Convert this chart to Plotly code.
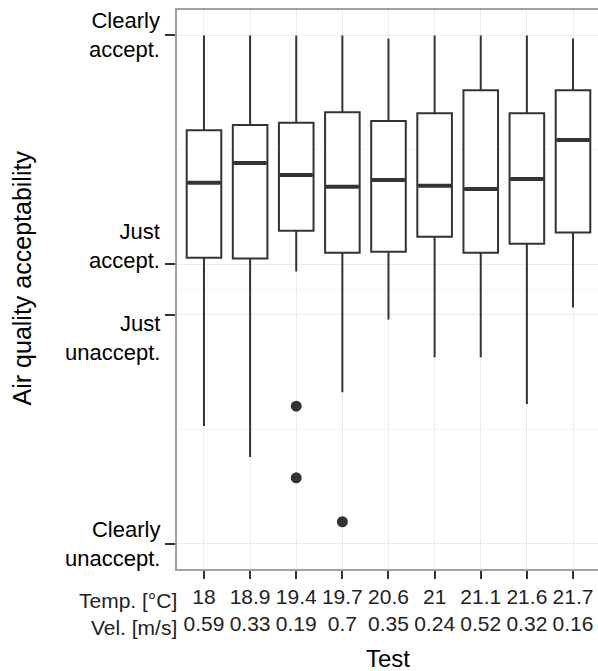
import plotly.graph_objects as go

temps = ["18", "18.9", "19.4", "19.7", "20.6", "21", "21.1", "21.6", "21.7"]
vels = ["0.59", "0.33", "0.19", "0.7", "0.35", "0.24", "0.52", "0.32", "0.16"]
upper = [1.0, 1.0, 1.0, 1.0, 0.988, 1.0, 1.0, 1.0, 0.988]
q3 = [0.627, 0.647, 0.656, 0.698, 0.663, 0.694, 0.784, 0.694, 0.784]
median = [0.42, 0.498, 0.451, 0.404, 0.431, 0.408, 0.396, 0.435, 0.588]
q1 = [0.125, 0.122, 0.231, 0.145, 0.149, 0.208, 0.145, 0.18, 0.224]
lower = [-0.537, -0.659, 0.071, -0.404, -0.118, -0.267, -0.267, -0.451, -0.071]
outlier_test = [2, 2, 3]
outlier_val = [-0.459, -0.741, -0.914]

ytick_vals = [1, 0.1, -0.1, -1]
ytick_text = ["Clearly<br>accept.", "Just<br>accept.", "Just<br>unaccept.", "Clearly<br>unaccept."]
ytick_anchor = ["middle", "bottom", "top", "middle"]
ytick_shift = [0, -11, 6, 0]
yminor_vals = [0.55, 0.0, -0.55]

pos = list(range(len(temps)))
box_w = 0.75
dark = "#333333"

fig = go.Figure()
fig.add_trace(go.Box(
    x=pos, q1=q1, median=median, q3=q3, lowerfence=lower, upperfence=upper,
    width=box_w, whiskerwidth=0, fillcolor="white",
    line=dict(color=dark, width=2), boxpoints=False, showlegend=False,
    hoverinfo="skip",
))
mx, my = [], []
for p, m in zip(pos, median):
    mx += [p - box_w / 2 + 0.02, p + box_w / 2 - 0.02, None]
    my += [m, m, None]
fig.add_trace(go.Scatter(x=mx, y=my, mode="lines", line=dict(color=dark, width=4),
                         showlegend=False, hoverinfo="skip"))
fig.add_trace(go.Scatter(x=outlier_test, y=outlier_val, mode="markers",
                         marker=dict(color=dark, size=11), showlegend=False))

tick_font = dict(family="Liberation Sans, Arial, sans-serif", size=21, color="#222222")
ylab_font = dict(family="Liberation Sans, Arial, sans-serif", size=22, color="black")

annotations = [
    dict(text="Temp. [°C]<br>Vel. [m/s]", xref="paper", yref="paper",
         x=0.004, y=-0.033, xanchor="right", yanchor="top", align="right",
         showarrow=False, font=tick_font),
    dict(text="Test", xref="paper", yref="paper", x=0.5, y=-0.161,
         xanchor="center", yanchor="middle", showarrow=False,
         font=dict(size=24, color="black")),
    dict(text="Air quality acceptability", xref="paper", yref="paper",
         x=-0.368, y=0.52, xanchor="center", yanchor="middle", textangle=-90,
         showarrow=False, font=dict(size=25, color="black")),
]
for v, t, a, s in zip(ytick_vals, ytick_text, ytick_anchor, ytick_shift):
    annotations.append(dict(text=t, xref="paper", yref="y", x=-0.036, y=v,
                            xanchor="right", yanchor=a, yshift=s, align="right",
                            showarrow=False, font=ylab_font))

fig.update_layout(
    width=598, height=671,
    margin=dict(l=177, r=0, t=10, b=102),
    plot_bgcolor="white", paper_bgcolor="white",
    font=dict(family="Liberation Sans, Arial, sans-serif", color="black"),
    xaxis=dict(
        range=[-0.585, 8.542], tickmode="array", tickvals=pos,
        ticktext=[f"{t}<br>{v}" for t, v in zip(temps, vels)],
        tickfont=tick_font, tickangle=0, ticks="outside", ticklen=8, tickwidth=2, tickcolor=dark,
        showgrid=True, gridcolor="#ebebeb", gridwidth=1.2,
        showline=True, linecolor="#a0a0a0", linewidth=1.5, mirror=True,
        zeroline=False,
    ),
    yaxis=dict(
        range=[-1.1, 1.1], tickmode="array", tickvals=ytick_vals,
        ticktext=["" for _ in ytick_vals],
        ticks="outside", ticklen=10, tickwidth=2, tickcolor=dark,
        showgrid=True, gridcolor="#ebebeb", gridwidth=1.2,
        minor=dict(tickmode="array", tickvals=yminor_vals, showgrid=True,
                   gridcolor="#f5f5f5", gridwidth=1, ticks=""),
        showline=True, linecolor="#a0a0a0", linewidth=1.5,
        zeroline=False,
    ),
    annotations=annotations,
)
fig.write_html("out.html")
